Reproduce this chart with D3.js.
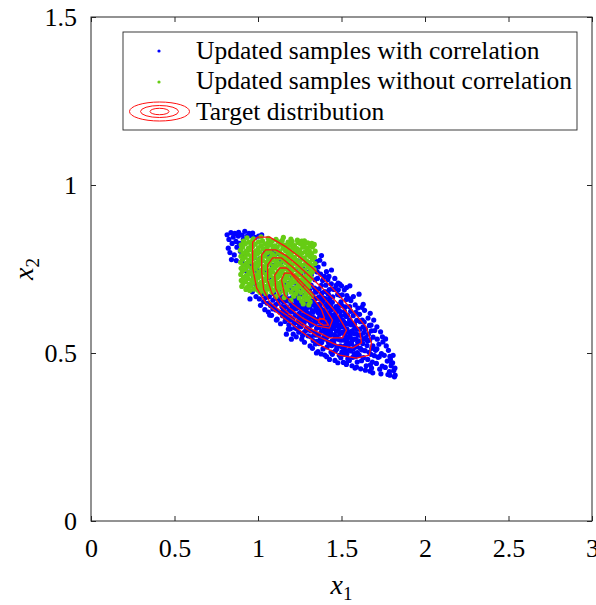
<!DOCTYPE html>
<html><head><meta charset="utf-8">
<script src="https://cdn.jsdelivr.net/npm/d3@7"></script>
<style>
body{margin:0;background:#fff}
svg{display:block}
text{font-family:"Liberation Serif","Times New Roman",serif;fill:#000}
</style>
</head><body>
<svg id="chart" width="596" height="605"></svg>
<script>
const xTicks = [0, 0.5, 1, 1.5, 2, 2.5, 3];
const xTickLabels = ["0", "0.5", "1", "1.5", "2", "2.5", "3"];
const yTicks = [0, 0.5, 1, 1.5];
const yTickLabels = ["0", "0.5", "1", "1.5"];
const seriesNames = ["Updated samples with correlation", "Updated samples without correlation", "Target distribution"];

// Updated samples with correlation (x1, x2)
const bluePts = [
[0.815,0.852],[0.826,0.838],[0.838,0.858],[0.822,0.812],[0.845,0.826],[0.832,0.799],[0.841,0.778],
[0.852,0.845],[0.861,0.856],[0.868,0.832],[0.874,0.815],[0.858,0.792],[0.882,0.848],[0.889,0.826],[0.895,0.803],[0.870,0.775],[0.884,0.859],
[0.905,0.851],[0.912,0.838],[0.921,0.862],[0.934,0.847],[0.946,0.856],[0.903,0.772],[0.915,0.794],[0.928,0.745],[0.938,0.762],[0.944,0.808],
[0.955,0.849],[0.968,0.857],[0.982,0.844],[0.958,0.702],[0.966,0.682],[0.974,0.726],[0.988,0.668],[0.992,0.701],[0.961,0.760],[0.979,0.785],[0.996,0.745],[0.952,0.661],
[1.004,0.848],[1.022,0.852],[1.008,0.661],[1.015,0.642],[1.027,0.676],[1.034,0.653],[1.041,0.629],[1.046,0.665],[1.019,0.705],[1.038,0.744],[1.012,0.781],[1.044,0.802],[1.028,0.698],
[1.055,0.648],[1.062,0.622],[1.068,0.668],[1.075,0.641],[1.081,0.612],[1.089,0.657],[1.094,0.676],[1.098,0.635],[1.058,0.699],[1.072,0.725],[1.086,0.761],[1.093,0.803],[1.066,0.789],
[1.104,0.665],[1.108,0.628],[1.115,0.601],[1.121,0.648],[1.127,0.683],[1.132,0.621],[1.138,0.659],[1.143,0.638],[1.147,0.611],[1.112,0.702],[1.126,0.738],[1.140,0.772],[1.118,0.796],[1.135,0.587],
[1.153,0.652],[1.157,0.618],[1.162,0.594],[1.166,0.675],[1.171,0.637],[1.176,0.608],[1.181,0.661],[1.185,0.584],[1.189,0.629],[1.193,0.689],[1.197,0.647],[1.158,0.703],[1.174,0.731],[1.188,0.758],[1.168,0.785],[1.195,0.606],[1.182,0.571],
[1.202,0.664],[1.205,0.622],[1.209,0.598],[1.213,0.641],[1.216,0.685],[1.220,0.575],[1.224,0.612],[1.227,0.653],[1.231,0.707],[1.234,0.633],[1.238,0.591],[1.241,0.672],[1.244,0.562],[1.247,0.618],[1.249,0.697],[1.207,0.728],[1.222,0.749],[1.236,0.774],[1.245,0.741],[1.211,0.556],[1.229,0.548],[1.243,0.648],
[1.252,0.603],[1.255,0.654],[1.258,0.578],[1.261,0.628],[1.264,0.691],[1.267,0.552],[1.270,0.613],[1.273,0.672],[1.276,0.589],[1.279,0.641],[1.282,0.715],[1.285,0.566],[1.288,0.627],[1.291,0.683],[1.294,0.598],[1.297,0.658],[1.256,0.734],[1.268,0.752],[1.283,0.743],[1.293,0.768],[1.262,0.541],[1.278,0.532],[1.299,0.551],[1.271,0.703],[1.287,0.607],
[1.302,0.617],[1.305,0.572],[1.307,0.661],[1.310,0.594],[1.313,0.639],[1.316,0.548],[1.318,0.702],[1.321,0.583],[1.324,0.626],[1.327,0.671],[1.330,0.537],[1.333,0.605],[1.335,0.649],[1.338,0.562],[1.341,0.718],[1.344,0.589],[1.346,0.634],[1.349,0.681],[1.304,0.741],[1.319,0.732],[1.332,0.756],[1.347,0.744],[1.312,0.521],[1.326,0.514],[1.343,0.527],[1.308,0.688],[1.339,0.693],[1.322,0.654],[1.315,0.609],
[1.352,0.598],[1.354,0.553],[1.357,0.641],[1.360,0.576],[1.362,0.619],[1.365,0.528],[1.368,0.667],[1.371,0.592],[1.373,0.541],[1.376,0.633],[1.379,0.701],[1.381,0.565],[1.384,0.611],[1.386,0.652],[1.389,0.512],[1.392,0.584],[1.394,0.627],[1.397,0.549],[1.399,0.683],[1.356,0.722],[1.366,0.691],[1.375,0.735],[1.387,0.716],[1.398,0.728],[1.359,0.504],[1.378,0.497],[1.391,0.607],[1.363,0.645],[1.382,0.678],[1.370,0.609],[1.395,0.569],
[1.402,0.587],[1.404,0.541],[1.407,0.622],[1.409,0.566],[1.412,0.604],[1.414,0.518],[1.417,0.651],[1.419,0.579],[1.422,0.532],[1.425,0.617],[1.427,0.689],[1.430,0.553],[1.432,0.598],[1.435,0.641],[1.437,0.503],[1.440,0.572],[1.442,0.613],[1.444,0.536],[1.447,0.667],[1.449,0.591],[1.406,0.702],[1.418,0.718],[1.429,0.663],[1.439,0.706],[1.446,0.691],[1.411,0.489],[1.428,0.481],[1.445,0.496],[1.415,0.636],[1.434,0.562],[1.421,0.675],
[1.452,0.573],[1.454,0.528],[1.457,0.611],[1.459,0.551],[1.462,0.593],[1.464,0.507],[1.467,0.638],[1.469,0.566],[1.472,0.519],[1.474,0.602],[1.477,0.674],[1.479,0.541],[1.482,0.584],[1.484,0.627],[1.487,0.493],[1.489,0.557],[1.492,0.599],[1.494,0.521],[1.497,0.652],[1.499,0.578],[1.456,0.689],[1.468,0.701],[1.481,0.688],[1.493,0.671],[1.461,0.478],[1.478,0.471],[1.496,0.486],[1.466,0.622],[1.486,0.643],[1.471,0.582],
[1.502,0.561],[1.505,0.517],[1.507,0.598],[1.510,0.539],[1.513,0.579],[1.515,0.496],[1.518,0.624],[1.520,0.553],[1.523,0.508],[1.526,0.588],[1.528,0.659],[1.531,0.529],[1.533,0.571],[1.536,0.612],[1.538,0.483],[1.541,0.546],[1.544,0.586],[1.546,0.509],[1.549,0.638],[1.504,0.673],[1.517,0.688],[1.532,0.671],[1.545,0.662],[1.511,0.472],[1.529,0.466],[1.547,0.478],[1.522,0.637],[1.539,0.563],
[1.552,0.548],[1.555,0.506],[1.558,0.584],[1.561,0.527],[1.564,0.566],[1.567,0.487],[1.570,0.611],[1.573,0.541],[1.576,0.498],[1.579,0.574],[1.582,0.643],[1.585,0.519],[1.588,0.558],[1.591,0.597],[1.594,0.473],[1.597,0.532],[1.556,0.656],[1.571,0.668],[1.586,0.621],[1.598,0.634],[1.563,0.462],[1.581,0.455],[1.595,0.501],
[1.603,0.536],[1.606,0.494],[1.610,0.571],[1.613,0.514],[1.617,0.553],[1.620,0.477],[1.624,0.598],[1.627,0.528],[1.631,0.486],[1.634,0.561],[1.638,0.627],[1.641,0.507],[1.645,0.546],[1.648,0.462],[1.608,0.615],[1.622,0.636],[1.636,0.592],[1.615,0.453],[1.643,0.449],[1.629,0.578],
[1.653,0.522],[1.657,0.481],[1.661,0.556],[1.665,0.502],[1.669,0.539],[1.673,0.465],[1.677,0.583],[1.681,0.514],[1.685,0.473],[1.689,0.547],[1.693,0.598],[1.697,0.492],[1.659,0.604],[1.671,0.446],[1.687,0.441],[1.679,0.566],
[1.704,0.508],[1.709,0.469],[1.714,0.541],[1.719,0.487],[1.724,0.526],[1.729,0.452],[1.734,0.563],[1.739,0.498],[1.744,0.461],[1.748,0.533],[1.712,0.578],[1.736,0.438],
[1.756,0.493],[1.762,0.457],[1.768,0.521],[1.774,0.476],[1.781,0.508],[1.787,0.445],[1.793,0.482],[1.764,0.542],[1.778,0.436],[1.797,0.462],
[1.806,0.471],[1.813,0.448],[1.821,0.434],[1.809,0.493],[1.817,0.429],
[1.170,0.556],[1.200,0.541],[1.070,0.613],[1.110,0.598],[1.350,0.500],[1.400,0.494],[1.530,0.470],[1.590,0.458],[1.680,0.455],[1.790,0.434],
[1.370,0.776],[1.380,0.790],[1.395,0.765],[1.360,0.756],[1.410,0.742],[1.440,0.747],[1.425,0.728],[1.460,0.722],[1.480,0.708],[1.500,0.700],[1.530,0.695],[1.350,0.772],[1.355,0.741],[1.550,0.700],[1.490,0.705],[1.605,0.675],[1.630,0.645],[1.672,0.618],[1.745,0.548],[1.790,0.490],[1.800,0.470],[1.820,0.455],
[1.262,0.652],[1.271,0.628],[1.279,0.671],[1.286,0.645],[1.294,0.619],[1.301,0.663],[1.309,0.637],[1.316,0.588],[1.323,0.645],[1.331,0.621],[1.338,0.601],[1.345,0.662],[1.353,0.627],[1.361,0.601],[1.368,0.578],[1.376,0.647],[1.383,0.622],[1.391,0.598],[1.398,0.574],[1.405,0.641],[1.413,0.616],[1.421,0.592],[1.428,0.568],[1.436,0.627],[1.443,0.603],[1.451,0.579],[1.458,0.555],[1.466,0.604],[1.473,0.589],[1.481,0.566],[1.488,0.542],[1.496,0.611],[1.503,0.587],[1.511,0.563],[1.518,0.539],[1.526,0.572],[1.533,0.548],[1.541,0.524],[1.548,0.598],[1.556,0.561],[1.563,0.537],[1.571,0.513],[1.578,0.585],[1.586,0.542],[1.593,0.518],
[1.228,0.676],[1.236,0.642],[1.245,0.605],[1.213,0.693],[1.221,0.661],[1.198,0.632],[1.187,0.708],[1.173,0.655],[1.162,0.637],[1.146,0.667],[1.131,0.683],[1.117,0.661],[1.106,0.644],[1.089,0.631],
[1.345,0.685],[1.372,0.662],[1.403,0.662],[1.432,0.651],[1.461,0.632],[1.492,0.623],[1.521,0.612],[1.352,0.535],[1.381,0.531],[1.412,0.547],[1.441,0.522],[1.472,0.512],[1.502,0.503],[1.532,0.497],
[1.152,0.628],[1.163,0.606],[1.178,0.622],[1.186,0.598],[1.194,0.572],[1.206,0.641],[1.215,0.588],[1.223,0.631],[1.232,0.572],[1.240,0.611],[1.248,0.584],[1.257,0.637],[1.266,0.597],[1.274,0.561],[1.283,0.653],[1.291,0.574],[1.298,0.636],[1.306,0.598],[1.314,0.566],[1.320,0.677],[1.328,0.588],[1.336,0.553],[1.343,0.641],[1.351,0.574],[1.358,0.664],[1.366,0.556],[1.374,0.621],[1.382,0.542],[1.390,0.664],[1.397,0.611],[1.405,0.558],[1.413,0.681],[1.420,0.604],[1.428,0.526],[1.436,0.588],[1.445,0.651],[1.453,0.538],[1.461,0.614],[1.470,0.548],[1.478,0.631],[1.486,0.576],[1.495,0.538],[1.503,0.641],[1.512,0.594],[1.520,0.521],[1.529,0.609],[1.537,0.532],[1.546,0.561],[1.555,0.624],[1.564,0.589],[1.574,0.558],[1.583,0.489],[1.592,0.571],[1.601,0.553],[1.612,0.593],[1.622,0.509],[1.633,0.541],[1.644,0.571],[1.656,0.536],[1.667,0.582],[1.676,0.496],[1.688,0.521],[1.699,0.567],[1.712,0.512],[1.726,0.489]
];

// Updated samples without correlation (x1, x2)
const greenPts = [
[0.934,0.843],[0.972,0.840],[1.018,0.846],[1.061,0.841],[1.108,0.838],[1.152,0.844],[1.197,0.839],[1.236,0.836],[1.278,0.834],
[0.913,0.833],[0.944,0.830],[0.968,0.835],[1.003,0.831],[1.027,0.834],[1.062,0.829],[1.085,0.833],[1.121,0.831],[1.145,0.835],[1.180,0.830],[1.204,0.832],[1.239,0.829],[1.262,0.833],[1.298,0.828],[1.322,0.826],
[0.899,0.822],[0.924,0.825],[0.959,0.821],[0.983,0.824],[1.018,0.820],[1.041,0.825],[1.077,0.822],[1.101,0.819],[1.136,0.824],[1.160,0.821],[1.195,0.823],[1.218,0.820],[1.254,0.825],[1.277,0.822],[1.313,0.819],[1.337,0.823],
[0.908,0.815],[0.943,0.812],[0.967,0.816],[1.002,0.813],[1.031,0.811],[1.056,0.816],[1.091,0.813],[1.115,0.815],[1.149,0.812],[1.174,0.817],[1.209,0.814],[1.233,0.811],[1.268,0.815],[1.292,0.812],[1.327,0.816],
[0.895,0.806],[0.929,0.803],[0.953,0.807],[0.988,0.804],[1.012,0.801],[1.047,0.806],[1.071,0.803],[1.106,0.807],[1.130,0.802],[1.165,0.805],[1.189,0.808],[1.224,0.803],[1.248,0.806],[1.283,0.801],[1.307,0.805],[1.342,0.803],
[0.912,0.797],[0.938,0.794],[0.973,0.798],[0.997,0.795],[1.032,0.793],[1.056,0.798],[1.086,0.795],[1.121,0.797],[1.144,0.793],[1.179,0.796],[1.203,0.799],[1.238,0.794],[1.262,0.797],[1.297,0.792],[1.321,0.796],
[0.898,0.788],[0.923,0.785],[0.958,0.789],[0.982,0.786],[1.017,0.783],[1.041,0.788],[1.076,0.785],[1.100,0.789],[1.135,0.784],[1.159,0.787],[1.194,0.790],[1.218,0.785],[1.253,0.788],[1.277,0.783],[1.312,0.787],[1.338,0.785],
[0.909,0.779],[0.944,0.776],[0.968,0.780],[1.003,0.777],[1.027,0.775],[1.062,0.780],[1.085,0.777],[1.115,0.779],[1.150,0.775],[1.174,0.778],[1.209,0.781],[1.232,0.776],[1.267,0.779],[1.291,0.774],[1.326,0.778],
[0.896,0.770],[0.930,0.767],[0.954,0.771],[0.989,0.768],[1.013,0.765],[1.048,0.770],[1.072,0.767],[1.107,0.771],[1.131,0.766],[1.166,0.769],[1.190,0.772],[1.225,0.767],[1.249,0.770],[1.284,0.765],[1.308,0.769],[1.341,0.766],
[0.911,0.761],[0.939,0.758],[0.974,0.762],[0.998,0.759],[1.033,0.757],[1.057,0.762],[1.092,0.759],[1.116,0.761],[1.145,0.757],[1.180,0.760],[1.204,0.763],[1.239,0.758],[1.263,0.761],[1.298,0.756],[1.322,0.760],
[0.899,0.752],[0.925,0.749],[0.960,0.753],[0.984,0.750],[1.019,0.747],[1.043,0.752],[1.078,0.749],[1.102,0.753],[1.137,0.748],[1.161,0.751],[1.196,0.754],[1.220,0.749],[1.255,0.752],[1.279,0.747],[1.314,0.751],[1.336,0.748],
[0.907,0.743],[0.945,0.740],[0.969,0.744],[1.004,0.741],[1.028,0.739],[1.063,0.744],[1.087,0.741],[1.122,0.743],[1.146,0.739],[1.181,0.742],[1.205,0.745],[1.240,0.740],[1.264,0.743],[1.299,0.738],[1.325,0.741],
[0.897,0.734],[0.931,0.731],[0.955,0.735],[0.990,0.732],[1.014,0.729],[1.049,0.734],[1.073,0.731],[1.108,0.735],[1.132,0.730],[1.167,0.733],[1.191,0.736],[1.226,0.731],[1.250,0.734],[1.285,0.729],[1.312,0.733],
[0.913,0.725],[0.940,0.722],[0.975,0.726],[0.999,0.723],[1.034,0.721],[1.058,0.726],[1.093,0.723],[1.117,0.725],[1.151,0.721],[1.175,0.724],[1.210,0.727],[1.234,0.722],[1.269,0.725],[1.293,0.720],[1.318,0.723],
[0.900,0.716],[0.926,0.713],[0.961,0.717],[0.985,0.714],[1.020,0.711],[1.044,0.716],[1.079,0.713],[1.103,0.717],[1.138,0.712],[1.162,0.715],[1.197,0.718],[1.221,0.713],[1.256,0.716],[1.280,0.711],[1.306,0.714],
[0.910,0.707],[0.946,0.704],[0.970,0.708],[1.005,0.705],[1.029,0.703],[1.064,0.708],[1.088,0.705],[1.123,0.707],[1.147,0.703],[1.182,0.706],[1.206,0.709],[1.241,0.704],[1.265,0.707],[1.300,0.702],
[0.903,0.698],[0.932,0.695],[0.956,0.699],[0.991,0.696],[1.015,0.693],[1.050,0.698],[1.074,0.695],[1.109,0.699],[1.133,0.694],[1.168,0.697],[1.192,0.700],[1.227,0.695],[1.251,0.698],[1.286,0.693],[1.303,0.697],
[0.928,0.689],[0.951,0.686],[0.976,0.690],[1.000,0.687],[1.035,0.685],[1.059,0.690],[1.094,0.687],[1.118,0.689],[1.152,0.685],[1.176,0.688],[1.211,0.691],[1.235,0.686],[1.270,0.689],[1.294,0.684],
[1.012,0.680],[1.047,0.677],[1.083,0.681],[1.126,0.678],[1.163,0.676],[1.199,0.681],[1.228,0.677],[1.258,0.680],[1.287,0.675],[1.309,0.679],
[1.108,0.668],[1.157,0.665],[1.214,0.669],[1.247,0.664],[1.276,0.667],[1.301,0.663],[1.318,0.669],
[1.197,0.657],[1.262,0.654],[1.289,0.659],[1.312,0.652],
[1.271,0.646],[1.304,0.643]
];

// Target distribution contour levels (outer to inner), closed rings in (x1, x2)
const contour1 = [[0.968,0.830],[0.998,0.845],[1.070,0.845],[1.171,0.815],[1.249,0.786],[1.327,0.753],[1.440,0.696],[1.548,0.637],[1.649,0.577],[1.679,0.530],[1.667,0.494],[1.590,0.485],[1.488,0.494],[1.369,0.524],[1.249,0.568],[1.147,0.607],[1.046,0.649],[0.992,0.693],[0.968,0.753]];
const contour2 = [[1.022,0.792],[1.046,0.807],[1.106,0.807],[1.171,0.789],[1.237,0.762],[1.321,0.723],[1.428,0.673],[1.530,0.622],[1.608,0.568],[1.620,0.530],[1.566,0.515],[1.470,0.524],[1.351,0.551],[1.231,0.592],[1.135,0.625],[1.070,0.652],[1.034,0.688],[1.022,0.741]];
const contour3 = [[1.058,0.762],[1.088,0.783],[1.141,0.783],[1.207,0.756],[1.279,0.723],[1.369,0.679],[1.470,0.619],[1.530,0.568],[1.506,0.545],[1.428,0.545],[1.309,0.574],[1.201,0.610],[1.130,0.643],[1.082,0.679],[1.058,0.717]];
const contour4 = [[1.100,0.732],[1.130,0.753],[1.171,0.753],[1.231,0.726],[1.297,0.693],[1.381,0.649],[1.446,0.598],[1.428,0.574],[1.357,0.580],[1.267,0.604],[1.189,0.634],[1.135,0.661],[1.106,0.693]];
const contour5 = [[1.141,0.717],[1.159,0.738],[1.195,0.738],[1.249,0.708],[1.321,0.670],[1.381,0.628],[1.398,0.604],[1.357,0.598],[1.279,0.619],[1.207,0.646],[1.159,0.673]];
const contour6 = [[1.369,0.604],[1.404,0.598],[1.422,0.583],[1.392,0.583],[1.363,0.592]];
const targetContours = [contour1, contour2, contour3, contour4, contour5, contour6];

const blueColor = "#0000ff", greenColor = "#66cc14", redColor = "#ff1010", axisColor = "#262626";

const svg = d3.select("#chart");
const x = d3.scaleLinear().domain([0, 3]).range([91, 592]);
const y = d3.scaleLinear().domain([0, 1.5]).range([521, 17]);

svg.append("rect").attr("width", 596).attr("height", 605).attr("fill", "#fff");

const plot = svg.append("g");
plot.selectAll("circle.blue").data(bluePts).join("circle").attr("class", "blue")
  .attr("cx", d => x(d[0])).attr("cy", d => y(d[1])).attr("r", 2.6).attr("fill", blueColor);
plot.selectAll("circle.green").data(greenPts).join("circle").attr("class", "green")
  .attr("cx", d => x(d[0])).attr("cy", d => y(d[1])).attr("r", 2.6).attr("fill", greenColor);

const ring = d3.line().x(d => x(d[0])).y(d => y(d[1])).curve(d3.curveLinearClosed);
plot.selectAll("path.ctr").data(targetContours).join("path").attr("class", "ctr")
  .attr("d", ring).attr("fill", "none").attr("stroke", redColor).attr("stroke-width", 1.3)
  .attr("stroke-linejoin", "round");

// axes
const fs = 26;
const axB = svg.append("g").attr("transform", `translate(0,${y(0)})`)
  .call(d3.axisBottom(x).tickValues(xTicks).tickFormat((d, i) => xTickLabels[i]).tickSizeInner(-5).tickSizeOuter(0).tickPadding(18));
const axL = svg.append("g").attr("transform", `translate(${x(0)},0)`)
  .call(d3.axisLeft(y).tickValues(yTicks).tickFormat((d, i) => yTickLabels[i]).tickSizeInner(-5).tickSizeOuter(0).tickPadding(14));
const axT = svg.append("g").attr("transform", `translate(0,${y(1.5)})`)
  .call(d3.axisTop(x).tickValues(xTicks).tickFormat("").tickSizeInner(-5).tickSizeOuter(0));
const axR = svg.append("g").attr("transform", `translate(${x(3)},0)`)
  .call(d3.axisRight(y).tickValues(yTicks).tickFormat("").tickSizeInner(-5).tickSizeOuter(0));
[axB, axL, axT, axR].forEach(a => {
  a.select(".domain").remove();
  a.selectAll(".tick line").attr("stroke", axisColor).attr("stroke-width", 1);
  a.selectAll(".tick text").style("font-size", fs + "px").style("font-family", "'Liberation Serif', serif").attr("fill", "#000");
});
svg.append("rect").attr("x", x(0)).attr("y", y(1.5)).attr("width", x(3) - x(0)).attr("height", y(0) - y(1.5))
  .attr("fill", "none").attr("stroke", axisColor).attr("stroke-width", 1);

// axis labels
const xl = svg.append("text").attr("x", (x(0) + x(3)) / 2).attr("y", 594).attr("text-anchor", "middle").attr("font-size", 28);
xl.append("tspan").attr("font-style", "italic").text("x");
xl.append("tspan").attr("font-size", 19).attr("dy", 6).text("1");
const yl = svg.append("text").attr("transform", `translate(33,${(y(0) + y(1.5)) / 2}) rotate(-90)`).attr("text-anchor", "middle").attr("font-size", 28);
yl.append("tspan").attr("font-style", "italic").text("x");
yl.append("tspan").attr("font-size", 19).attr("dy", 6).text("2");

// legend
const lg = svg.append("g");
lg.append("rect").attr("x", 123).attr("y", 32).attr("width", 454).attr("height", 98)
  .attr("fill", "#fff").attr("stroke", axisColor).attr("stroke-width", 0.9);
const rows = [59, 89, 120];
lg.selectAll("text.lt").data(seriesNames).join("text").attr("class", "lt")
  .attr("x", 196).attr("y", (d, i) => rows[i]).attr("font-size", 25.5).text(d => d);
lg.append("circle").attr("cx", 159).attr("cy", 51).attr("r", 1.6).attr("fill", blueColor);
lg.append("circle").attr("cx", 159).attr("cy", 82).attr("r", 1.6).attr("fill", greenColor);
[[30, 9.5], [19, 6], [9.5, 3.2]].forEach(([rx, ry]) => {
  lg.append("ellipse").attr("cx", 159.5).attr("cy", 111.5).attr("rx", rx).attr("ry", ry)
    .attr("fill", "none").attr("stroke", redColor).attr("stroke-width", 1);
});
</script>
</body></html>
